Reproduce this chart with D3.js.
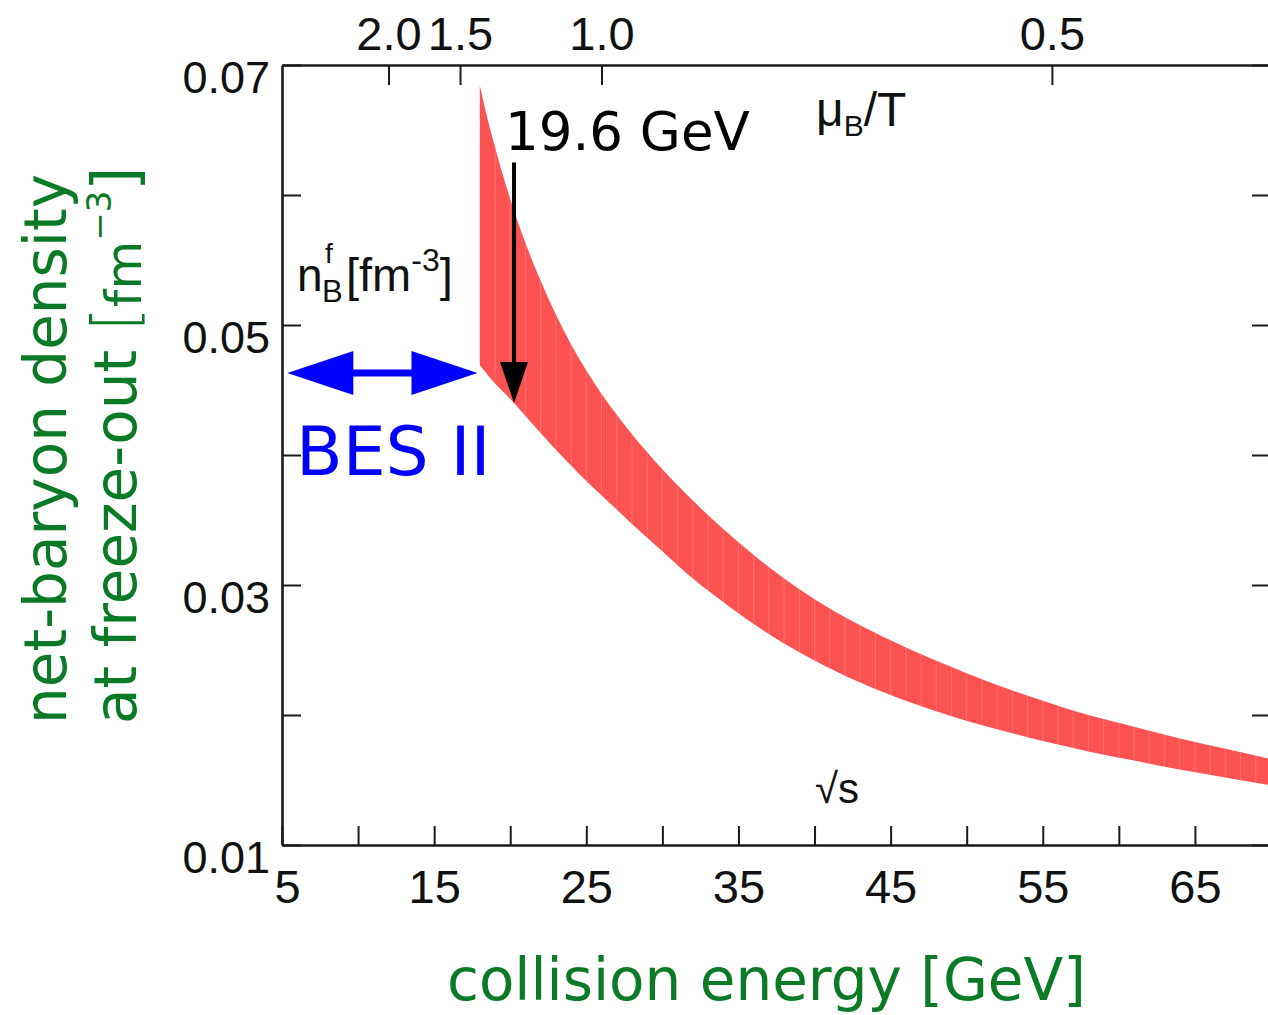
<!DOCTYPE html>
<html>
<head>
<meta charset="utf-8">
<script src="https://cdn.jsdelivr.net/npm/d3@7"></script>
<style>
  html, body { margin: 0; padding: 0; background: #fff; }
  svg { display: block; }
</style>
</head>
<body>
<svg id="chart" width="1268" height="1015"></svg>
<script>
// ---------------- data ----------------
const sqrtS  = [18, 18.5, 19, 19.5, 20, 21, 22, 23, 24, 25, 26, 27, 28, 30, 32, 34, 36, 38, 40, 43, 46, 49, 52, 55, 58, 61, 64, 67, 70];
const nUpper = [0.0684, 0.0659, 0.0637, 0.0616, 0.0597, 0.0563, 0.0534, 0.0508, 0.0485, 0.0465, 0.0447, 0.0431, 0.0416, 0.0389, 0.0365, 0.0343, 0.0323, 0.0305, 0.0289, 0.0269, 0.0252, 0.0237, 0.0223, 0.0211, 0.0200, 0.0191, 0.0182, 0.0174, 0.0166];
const nLower = [0.0469, 0.0462, 0.0455, 0.0449, 0.0443, 0.0430, 0.0417, 0.0404, 0.0392, 0.0380, 0.0369, 0.0358, 0.0347, 0.0326, 0.0305, 0.0287, 0.0270, 0.0255, 0.0242, 0.0225, 0.0211, 0.0199, 0.0189, 0.0180, 0.0172, 0.0165, 0.0158, 0.0152, 0.0146];

const xTicks       = [5, 10, 15, 20, 25, 30, 35, 40, 45, 50, 55, 60, 65, 70];
const xTickLabels  = ["5", "", "15", "", "25", "", "35", "", "45", "", "55", "", "65", ""];
const yTicks       = [0.01, 0.02, 0.03, 0.04, 0.05, 0.06, 0.07];
const yTickLabels  = ["0.01", "", "0.03", "", "0.05", "", "0.07"];
const muBTickSqrtS = [12.0, 16.7, 26.0, 55.6];   // where the mu_B/T ticks sit on the sqrt(s) axis
const muBTickLabels = ["2.0", "1.5", "1.0", "0.5"];

const besII   = [5.35, 17.85];   // sqrt(s) span of the BES II arrow
const besLevel = 0.0463;
const arrowEnergy = 20.25;       // x of the 19.6 GeV marker as drawn
const arrowFrom = 0.0625, arrowTo = 0.0440;

// ---------------- layout ----------------
const svg = d3.select("#chart");
const L = 282, R = 1271, T = 65, B = 845;
const x = d3.scaleLinear().domain([5, 70]).range([L, R]);
const y = d3.scaleLinear().domain([0.01, 0.07]).range([B, T]);

const axisFont = "'Liberation Sans', Arial, Helvetica, sans-serif";
const djv = "'DejaVu Sans', sans-serif";
const green = "#0b7a26";

// ---------------- band ----------------
const pts = sqrtS.map((s, i) => ({ s, u: nUpper[i], l: nLower[i] }));
const area = d3.area()
  .x(d => x(d.s)).y0(d => y(d.l)).y1(d => y(d.u))
  .curve(d3.curveMonotoneX);

svg.append("clipPath").attr("id", "bandClip")
  .append("path").attr("d", area(pts));

svg.append("path").attr("d", area(pts)).attr("fill", "#fc5252");

svg.append("g").attr("clip-path", "url(#bandClip)")
  .selectAll("line").data(d3.range(19, 70, 1)).join("line")
  .attr("x1", d => x(d)).attr("x2", d => x(d))
  .attr("y1", T).attr("y2", B)
  .attr("stroke", "#ff8a8a").attr("stroke-width", 1).attr("opacity", 0.55);

// ---------------- axes ----------------
function styleAxis(g) {
  g.select(".domain").attr("stroke", "#1a1a1a").attr("stroke-width", 2.6);
  g.selectAll(".tick line").attr("stroke", "#1a1a1a").attr("stroke-width", 2);
  g.selectAll(".tick text").attr("fill", "#111").attr("font-family", axisFont);
}

// bottom
const gx = svg.append("g").attr("transform", `translate(0,${B})`)
  .call(d3.axisBottom(x).tickValues(xTicks)
    .tickFormat((d, i) => xTickLabels[i])
    .tickSizeInner(-19).tickSizeOuter(0).tickPadding(25));
styleAxis(gx);
gx.selectAll(".tick text").attr("font-size", 47).attr("dy", "0.71em");
gx.selectAll(".tick text").filter((d, i) => i === 0).attr("dx", 5);

// top (mu_B/T)
const gt = svg.append("g").attr("transform", `translate(0,${T})`)
  .call(d3.axisTop(x).tickValues(muBTickSqrtS)
    .tickFormat((d, i) => muBTickLabels[i])
    .tickSizeInner(-20).tickSizeOuter(0).tickPadding(15));
styleAxis(gt);
gt.selectAll(".tick text").attr("font-size", 47);

// left
const gy = svg.append("g").attr("transform", `translate(${L},0)`)
  .call(d3.axisLeft(y).tickValues(yTicks)
    .tickFormat((d, i) => yTickLabels[i])
    .tickSizeInner(-19).tickSizeOuter(0).tickPadding(12));
styleAxis(gy);
gy.selectAll(".tick text").attr("font-size", 45).attr("dy", "0.6em");

// right
const gr = svg.append("g").attr("transform", `translate(${R},0)`)
  .call(d3.axisLeft(y).tickValues(yTicks).tickFormat("")
    .tickSizeInner(19).tickSizeOuter(0));
styleAxis(gr);

// ---------------- in-plot labels ----------------
// n_B^f [fm^-3]
const nb = svg.append("g").attr("font-family", axisFont).attr("fill", "#111");
nb.append("text").attr("x", 297).attr("y", 291).attr("font-size", 46).text("n");
nb.append("text").attr("x", 322).attr("y", 302).attr("font-size", 31).text("B");
nb.append("text").attr("x", 325).attr("y", 263).attr("font-size", 28).text("f");
const nbt = nb.append("text").attr("x", 346).attr("y", 291).attr("font-size", 47);
nbt.append("tspan").text("[fm");
nbt.append("tspan").attr("font-size", 32).attr("dy", -20).text("-3");
nbt.append("tspan").attr("dy", 20).text("]");

// mu_B/T
const mu = svg.append("text").attr("x", 816).attr("y", 126)
  .attr("font-family", axisFont).attr("font-size", 48).attr("fill", "#111");
mu.append("tspan").text("\u03BC");
mu.append("tspan").attr("font-size", 30).attr("dy", 10).text("B");
mu.append("tspan").attr("dy", -10).text("/T");

// sqrt(s)
svg.append("text").attr("x", 815).attr("y", 803)
  .attr("font-family", axisFont).attr("font-size", 42).attr("fill", "#111")
  .text("\u221As");

// ---------------- annotations ----------------
// 19.6 GeV arrow
const ax = x(arrowEnergy);
svg.append("text").attr("x", 505).attr("y", 150)
  .attr("font-family", djv).attr("font-size", 53).attr("fill", "#000")
  .text("19.6 GeV");
svg.append("line").attr("x1", ax).attr("x2", ax)
  .attr("y1", y(arrowFrom)).attr("y2", y(arrowTo) - 30)
  .attr("stroke", "#000").attr("stroke-width", 4);
svg.append("path")
  .attr("d", d3.line()([[ax - 14, y(arrowTo) - 41], [ax + 14, y(arrowTo) - 41], [ax, y(arrowTo)]]) + "Z")
  .attr("fill", "#000");

// BES II double arrow
const by = y(besLevel), bx0 = x(besII[0]), bx1 = x(besII[1]);
svg.append("line").attr("x1", bx0 + 60).attr("x2", bx1 - 60)
  .attr("y1", by).attr("y2", by)
  .attr("stroke", "#0000ff").attr("stroke-width", 7);
svg.append("path")
  .attr("d", d3.line()([[bx0, by], [bx0 + 66, by - 22], [bx0 + 66, by + 22]]) + "Z")
  .attr("fill", "#0000ff");
svg.append("path")
  .attr("d", d3.line()([[bx1, by], [bx1 - 66, by - 22], [bx1 - 66, by + 22]]) + "Z")
  .attr("fill", "#0000ff");
svg.append("text").attr("x", 296).attr("y", 475)
  .attr("font-family", djv).attr("font-size", 68).attr("fill", "#0000ff")
  .text("BES II");

// ---------------- axis titles ----------------
svg.append("text").attr("x", 447).attr("y", 1000)
  .attr("font-family", djv).attr("font-size", 58).attr("fill", green)
  .text("collision energy [GeV]");

svg.append("text")
  .attr("transform", "translate(66,724) rotate(-90)")
  .attr("font-family", djv).attr("font-size", 58).attr("fill", green)
  .text("net-baryon density");

const yt2 = svg.append("text")
  .attr("transform", "translate(136,724) rotate(-90)")
  .attr("font-family", djv).attr("font-size", 58).attr("fill", green);
yt2.append("tspan").text("at freeze-out ");
yt2.append("tspan").attr("font-size", 62).attr("font-weight", 300).text("[");
yt2.append("tspan").attr("font-size", 50).attr("dy", 5).text("fm");
yt2.append("tspan").attr("font-size", 34).attr("dy", -30).text("\u22123");
yt2.append("tspan").attr("font-size", 62).attr("dy", 25).text("]");
</script>
</body>
</html>
